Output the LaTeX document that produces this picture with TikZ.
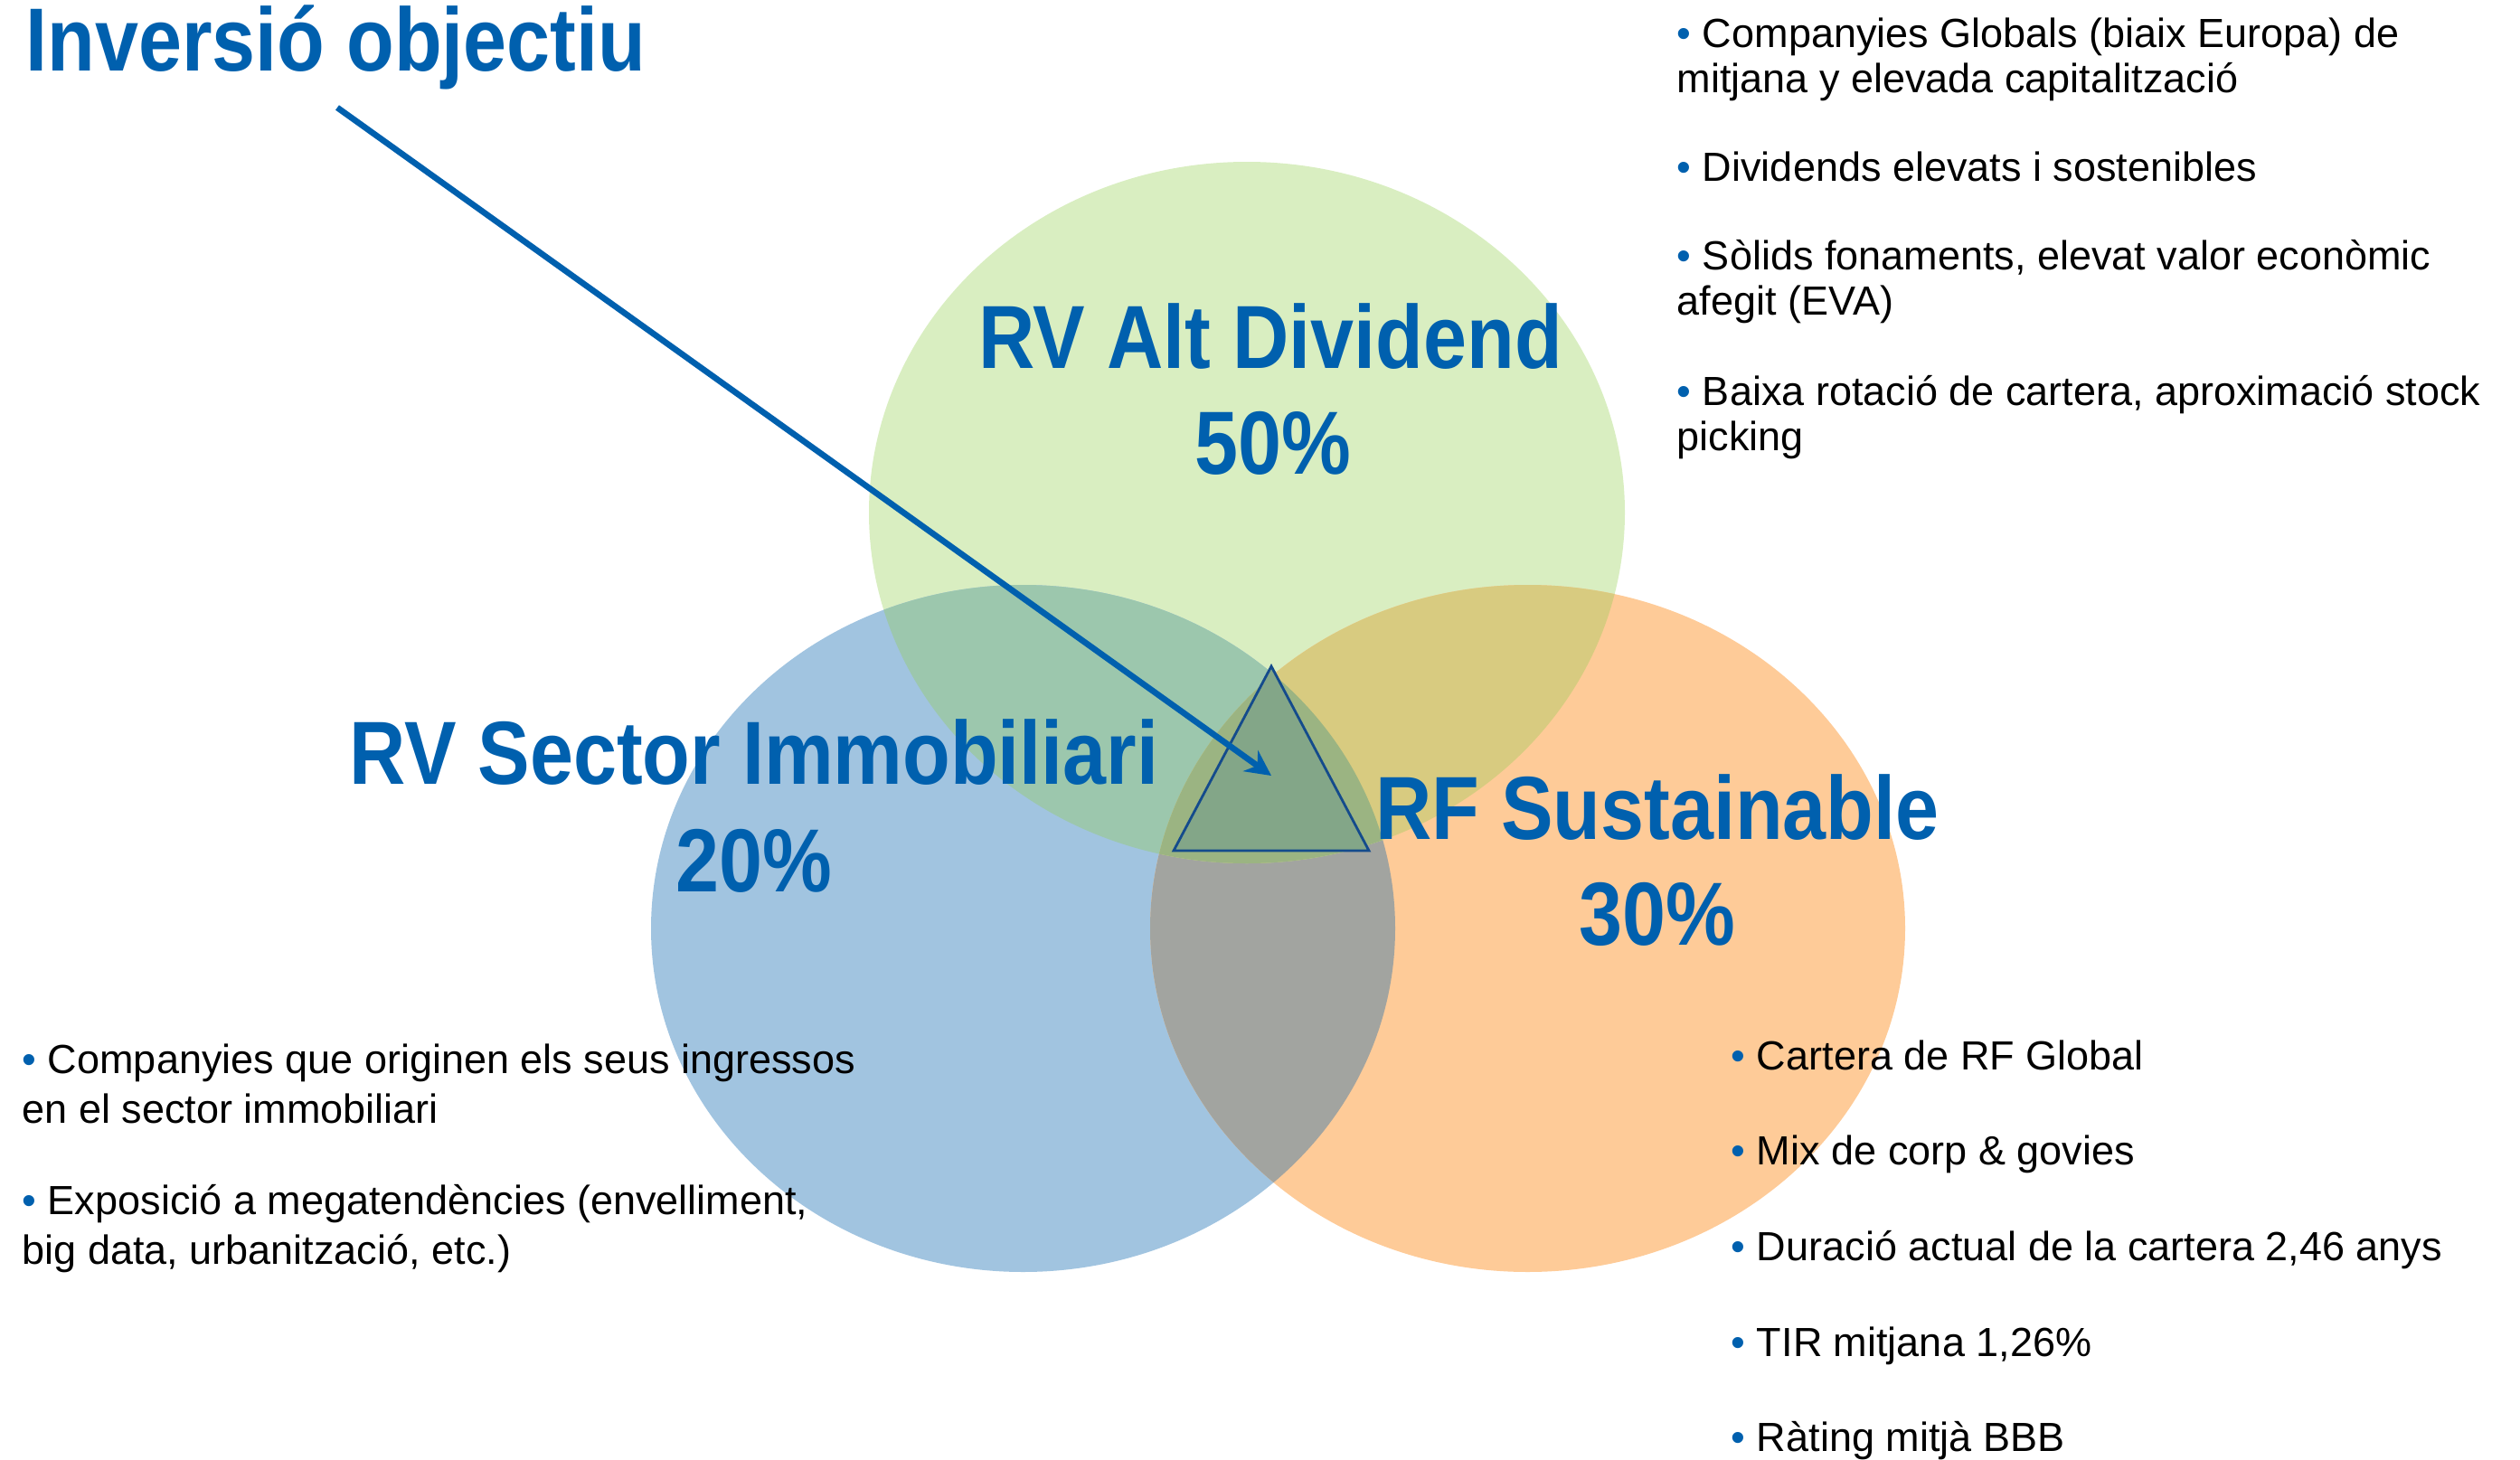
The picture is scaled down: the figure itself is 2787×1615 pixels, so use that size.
\documentclass[tikz,border=0pt]{standalone}
\usepackage{fontspec}
\setmainfont{Liberation Sans}
\newfontfamily\headfont[FakeStretch=0.87]{Liberation Sans}
\usetikzlibrary{arrows.meta}

\definecolor{titleblue}{RGB}{0,96,174}
\definecolor{divgreen}{RGB}{217,238,193}
\definecolor{immblue}{RGB}{161,196,224}
\definecolor{rforange}{RGB}{254,203,152}
\definecolor{immrf}{RGB}{162,164,160}
\definecolor{divimm}{RGB}{156,199,173}
\definecolor{divrf}{RGB}{216,203,128}
\definecolor{allthree}{RGB}{155,180,130}
\definecolor{trifill}{RGB}{131,166,136}
\definecolor{triline}{RGB}{20,75,140}
\newcommand{\dotitem}{{\color{titleblue}\textbullet}~}

\begin{document}
\begin{tikzpicture}[x=0.01cm, y=-0.01cm,
    big label/.style={font=\headfont\bfseries\fontsize{28.2pt}{33.6pt}\selectfont, text=titleblue, inner sep=0pt, anchor=base},
    point text/.style={font=\fontsize{12.8pt}{14.2pt}\selectfont, align=left, inner sep=0pt, anchor=base west},
    wide text/.style={point text, font=\fontsize{12.8pt}{15.4pt}\selectfont}]

    \useasboundingbox (0,0) rectangle (2787,1615);

    % Circles
    \coordinate (div) at (1379,567);
    \coordinate (imm) at (1131.5,1027);
    \coordinate (rf) at (1689.5,1027);

    \fill[divgreen] (div) ellipse [x radius=418, y radius=388];
    \fill[immblue] (imm) ellipse [x radius=411.5, y radius=380];
    \fill[rforange] (rf) ellipse [x radius=417.5, y radius=380];

    % Overlaps
    \begin{scope}
        \clip (imm) ellipse [x radius=411.5, y radius=380];
        \fill[immrf] (rf) ellipse [x radius=417.5, y radius=380];
    \end{scope}
    \begin{scope}
        \clip (div) ellipse [x radius=418, y radius=388];
        \fill[divimm] (imm) ellipse [x radius=411.5, y radius=380];
        \fill[divrf] (rf) ellipse [x radius=417.5, y radius=380];
        \clip (imm) ellipse [x radius=411.5, y radius=380];
        \fill[allthree] (rf) ellipse [x radius=417.5, y radius=380];
    \end{scope}

    % Triangle and arrow
    \coordinate (apex) at (1406,737);
    \coordinate (left) at (1298,941);
    \coordinate (right) at (1514,941);
    \filldraw[fill=trifill, draw=triline, line width=0.8pt] (apex) -- (left) -- (right) -- cycle;

    \node[big label, anchor=base west] (title) at (28,78) {Inversió objectiu};
    \coordinate (start) at (373,119);
    \coordinate (aim) at (1406,858);
    \draw[titleblue, line width=1.9pt, -{Stealth[length=8pt, width=8pt]}] (start) -- (aim);

    % Labels
    \node[big label] (divname) at (1405,407) {RV Alt Dividend};
    \node[big label] (divpct) at (1408,524) {50\%};
    \node[big label] (immname) at (834,867) {RV Sector Immobiliari};
    \node[big label] (immpct) at (834,986) {20\%};
    \node[big label] (rfname) at (1833,928) {RF Sustainable};
    \node[big label] (rfpct) at (1833,1045) {30\%};

    % Top right (base = last line)
    \node[point text] (p1) at (1854,102) {\dotitem Companyies Globals (biaix Europa) de\\mitjana y elevada capitalització};
    \node[point text] (p2) at (1854,200) {\dotitem Dividends elevats i sostenibles};
    \node[point text] (p3) at (1854,348) {\dotitem Sòlids fonaments, elevat valor econòmic\\afegit (EVA)};
    \node[point text] (p4) at (1854,498) {\dotitem Baixa rotació de cartera, aproximació stock\\picking};

    % Bottom left
    \node[wide text] (q1) at (24,1242) {\dotitem Companyies que originen els seus ingressos\\en el sector immobiliari};
    \node[wide text] (q2) at (24,1398) {\dotitem Exposició a megatendències (envelliment,\\big data, urbanització, etc.)};

    % Bottom right
    \node[point text] (r1) at (1914,1183) {\dotitem Cartera de RF Global};
    \node[point text] (r2) at (1914,1288) {\dotitem Mix de corp \& govies};
    \node[point text] (r3) at (1914,1394) {\dotitem Duració actual de la cartera 2,46 anys};
    \node[point text] (r4) at (1914,1500) {\dotitem TIR mitjana 1,26\%};
    \node[point text] (r5) at (1914,1605) {\dotitem Ràting mitjà BBB};

\end{tikzpicture}
\end{document}
